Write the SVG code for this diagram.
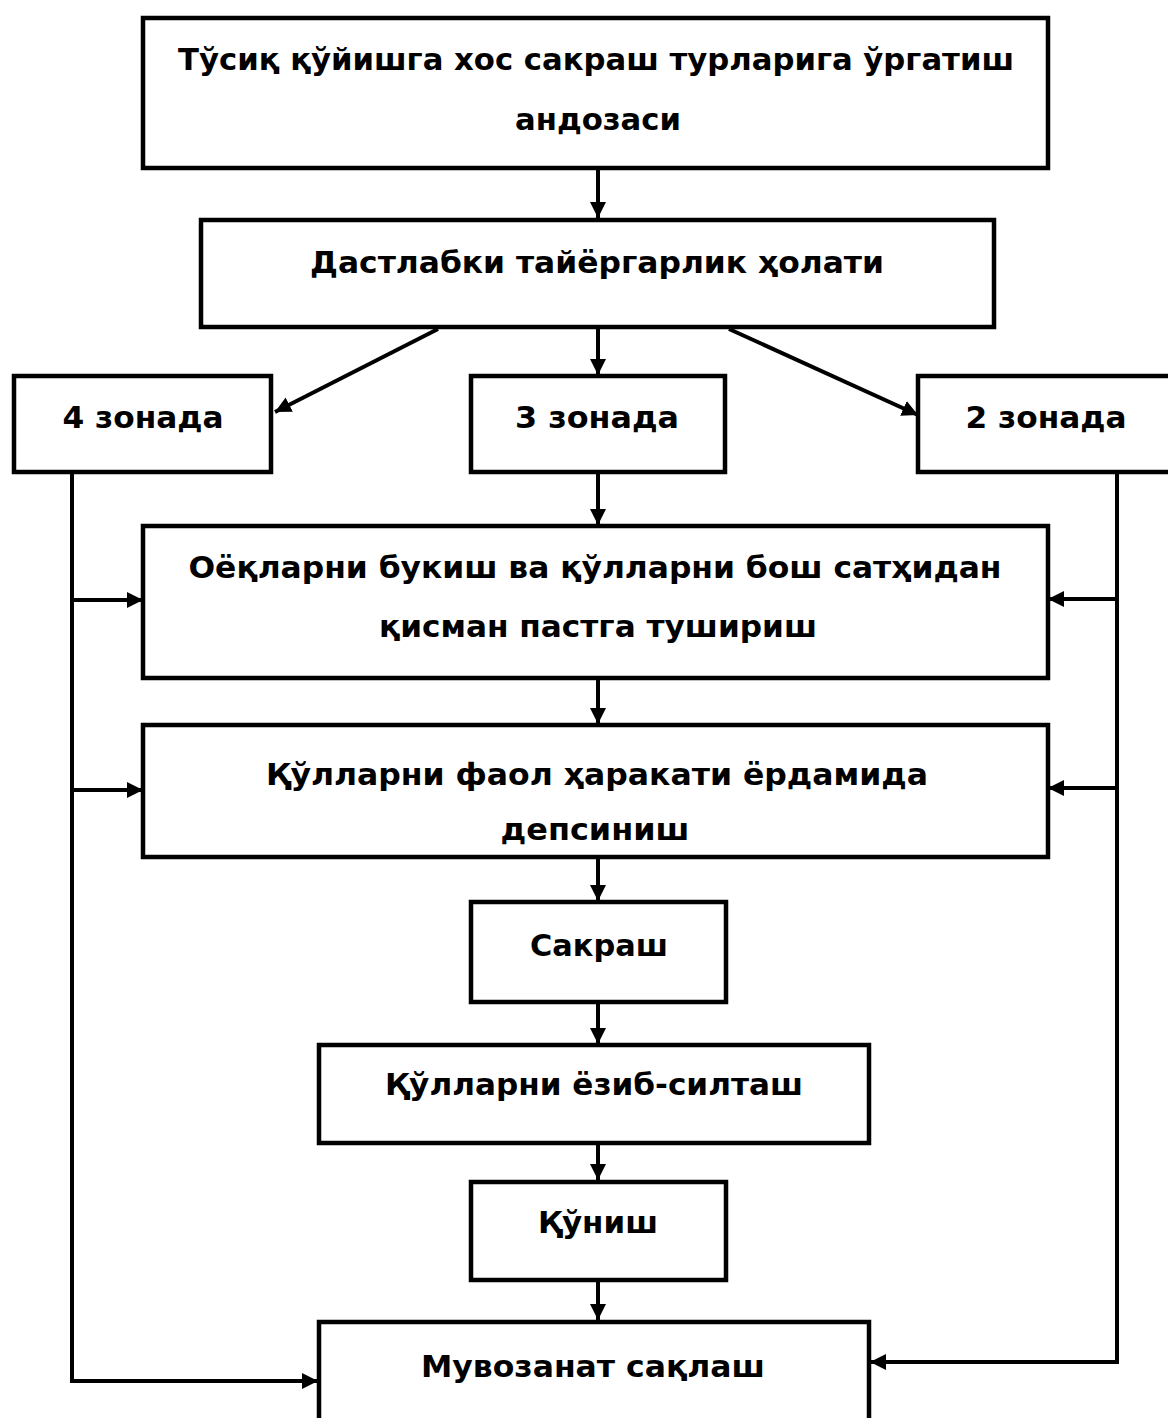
<svg xmlns="http://www.w3.org/2000/svg" width="1168" height="1418" viewBox="0 0 1168 1418">
<style>
.box{fill:#fff;stroke:#000;stroke-width:4.5}
.t{font-family:"DejaVu Sans Condensed","DejaVu Sans","Liberation Sans",sans-serif;font-stretch:condensed;font-weight:bold;font-size:30px;fill:#000;text-anchor:middle}
.c{fill:none;stroke:#000;stroke-width:4}
</style>
<defs>
<marker id="ah" markerUnits="userSpaceOnUse" markerWidth="18" markerHeight="18" refX="16" refY="8" orient="auto">
<path d="M0,0 L16,8 L0,16 z" fill="#000"/>
</marker>
</defs>
<rect width="1168" height="1418" fill="#fff"/>
<g id="connectors">
<line class="c" x1="598" y1="168" x2="598" y2="218" marker-end="url(#ah)"/>
<line class="c" x1="438" y1="329" x2="275" y2="412" marker-end="url(#ah)"/>
<line class="c" x1="598" y1="328" x2="598" y2="375" marker-end="url(#ah)"/>
<line class="c" x1="729" y1="329" x2="918" y2="415" marker-end="url(#ah)"/>
<line class="c" x1="598" y1="472" x2="598" y2="525" marker-end="url(#ah)"/>
<line class="c" x1="598" y1="678" x2="598" y2="724" marker-end="url(#ah)"/>
<line class="c" x1="598" y1="858" x2="598" y2="901" marker-end="url(#ah)"/>
<line class="c" x1="598" y1="1002" x2="598" y2="1044" marker-end="url(#ah)"/>
<line class="c" x1="598" y1="1143" x2="598" y2="1180" marker-end="url(#ah)"/>
<line class="c" x1="598" y1="1280" x2="598" y2="1320" marker-end="url(#ah)"/>
<polyline class="c" points="72,472 72,1381 318,1381" marker-end="url(#ah)"/>
<line class="c" x1="72" y1="600" x2="143" y2="600" marker-end="url(#ah)"/>
<line class="c" x1="72" y1="790" x2="143" y2="790" marker-end="url(#ah)"/>
<polyline class="c" points="1117,472 1117,1362 870,1362" marker-end="url(#ah)"/>
<line class="c" x1="1117" y1="599" x2="1048" y2="599" marker-end="url(#ah)"/>
<line class="c" x1="1117" y1="788" x2="1048" y2="788" marker-end="url(#ah)"/>
</g>
<g id="n1">
<rect class="box" x="143" y="18" width="905" height="150"/>
<text class="t" x="596" y="70" textLength="836" lengthAdjust="spacingAndGlyphs">Тўсиқ қўйишга хос сакраш турларига ўргатиш</text>
<text class="t" x="598" y="130" textLength="166" lengthAdjust="spacingAndGlyphs">андозаси</text>
</g>
<g id="n2">
<rect class="box" x="201" y="220" width="793" height="107"/>
<text class="t" x="597" y="273" textLength="574" lengthAdjust="spacingAndGlyphs">Дастлабки тайёргарлик ҳолати</text>
</g>
<g id="n3">
<rect class="box" x="14" y="376" width="257" height="96"/>
<text class="t" x="143" y="428" textLength="161" lengthAdjust="spacingAndGlyphs">4 зонада</text>
</g>
<g id="n4">
<rect class="box" x="471" y="376" width="254" height="96"/>
<text class="t" x="597" y="428" textLength="164" lengthAdjust="spacingAndGlyphs">3 зонада</text>
</g>
<g id="n5">
<rect class="box" x="918" y="376" width="262" height="96"/>
<text class="t" x="1046" y="428" textLength="161" lengthAdjust="spacingAndGlyphs">2 зонада</text>
</g>
<g id="n6">
<rect class="box" x="143" y="526" width="905" height="152"/>
<text class="t" x="595" y="578" textLength="813" lengthAdjust="spacingAndGlyphs">Оёқларни букиш ва қўлларни бош сатҳидан</text>
<text class="t" x="598" y="637" textLength="438" lengthAdjust="spacingAndGlyphs">қисман пастга тушириш</text>
</g>
<g id="n7">
<rect class="box" x="143" y="725" width="905" height="132"/>
<text class="t" x="597" y="785" textLength="662" lengthAdjust="spacingAndGlyphs">Қўлларни фаол ҳаракати ёрдамида</text>
<text class="t" x="595" y="840" textLength="189" lengthAdjust="spacingAndGlyphs">депсиниш</text>
</g>
<g id="n8">
<rect class="box" x="471" y="902" width="255" height="100"/>
<text class="t" x="599" y="956" textLength="138" lengthAdjust="spacingAndGlyphs">Сакраш</text>
</g>
<g id="n9">
<rect class="box" x="319" y="1045" width="550" height="98"/>
<text class="t" x="594" y="1095" textLength="418" lengthAdjust="spacingAndGlyphs">Қўлларни ёзиб-силташ</text>
</g>
<g id="n10">
<rect class="box" x="471" y="1182" width="255" height="98"/>
<text class="t" x="598" y="1233" textLength="120" lengthAdjust="spacingAndGlyphs">Қўниш</text>
</g>
<g id="n11">
<rect class="box" x="319" y="1322" width="550" height="130"/>
<text class="t" x="593" y="1377" textLength="344" lengthAdjust="spacingAndGlyphs">Мувозанат сақлаш</text>
</g>
</svg>
